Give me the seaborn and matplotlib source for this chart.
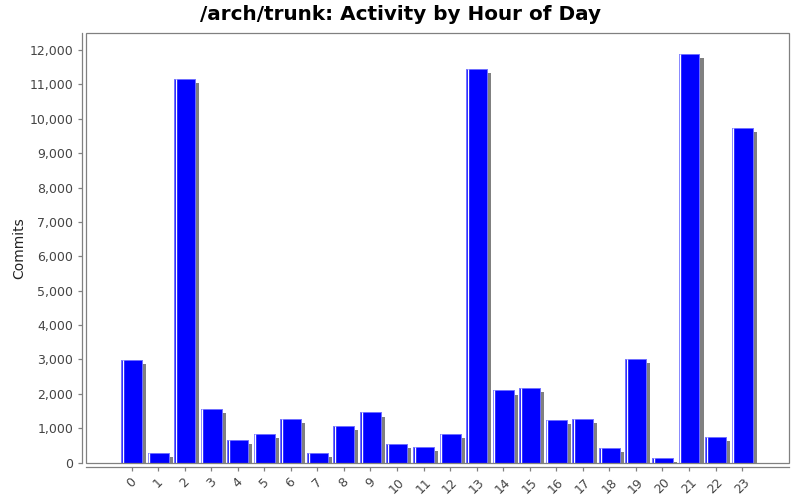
import matplotlib
matplotlib.use("Agg")
import matplotlib.pyplot as plt
import matplotlib.patheffects as pe
from matplotlib.patches import Rectangle
from matplotlib.ticker import FuncFormatter, MultipleLocator
import pandas as pd
import seaborn as sns

# commits per hour of day
hours = [str(h) for h in range(24)]
commits = [2980, 290, 11160, 1560, 650, 830, 1280, 290, 1075, 1455, 530, 455,
           825, 11440, 2095, 2170, 1250, 1280, 435, 3025, 145, 11890, 730, 9740]

df = pd.DataFrame({"Hour": hours, "Commits": commits})

sns.set_style("white")
plt.rcParams['font.family'] = ['DejaVu Sans']

fig = plt.figure(figsize=(8, 5), dpi=100)
ax = fig.add_axes([0.108, 0.075, 0.878, 0.859])

sns.barplot(data=df, x="Hour", y="Commits", color="#0000ff", saturation=1,
            width=0.79, edgecolor="#6f6fff", linewidth=0.7, ax=ax)

# drop shadow like the original renderer
for p in ax.patches:
    p.set_path_effects([pe.SimplePatchShadow(offset=(2.9, -2.9), shadow_rgbFace="#808080", alpha=1.0),
                        pe.Normal()])
    ax.vlines(p.get_x() + 0.065, 0, p.get_height(), color="white", lw=1.0, zorder=5)

ax.set_xlim(-1.7, 24.76)
ax.set_ylim(0, 12495)
ax.yaxis.set_major_locator(MultipleLocator(1000))
ax.yaxis.set_major_formatter(FuncFormatter(lambda v, _: f"{int(v):,}"))

# box around the plot area plus offset axis lines
ax.add_patch(Rectangle((0, 0), 1, 1, transform=ax.transAxes, fill=False,
                       edgecolor="#808080", lw=0.9, clip_on=False, zorder=10))
for side in ["top", "right"]:
    ax.spines[side].set_visible(False)
for side in ["left", "bottom"]:
    ax.spines[side].set_position(("outward", 3))
    ax.spines[side].set_color("#808080")
    ax.spines[side].set_linewidth(0.9)

ax.tick_params(axis="both", which="major", direction="out", length=3, width=0.9,
               color="#808080", labelcolor="#444444", labelsize=9, left=True, bottom=True)
plt.setp(ax.get_xticklabels(), rotation=45, ha="center")

ax.set_xlabel("")
ax.set_ylabel("Commits", fontsize=10, color="#222222", labelpad=2)
fig.suptitle("/arch/trunk: Activity by Hour of Day", fontsize=14.4, fontweight="bold",
             color="black", x=0.5, y=0.99)

fig.savefig("out.png", dpi=100)
